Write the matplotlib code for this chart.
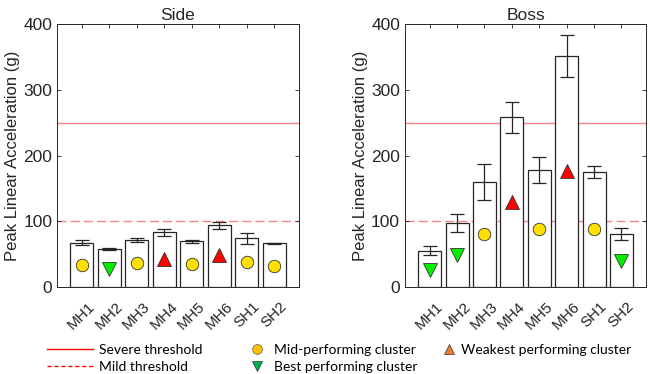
import numpy as np
import matplotlib
matplotlib.use("Agg")
import matplotlib.pyplot as plt
from matplotlib.lines import Line2D

plt.rcParams['font.family'] = ['Liberation Sans', 'DejaVu Sans']

helmets = ['MH1', 'MH2', 'MH3', 'MH4', 'MH5', 'MH6', 'SH1', 'SH2']

# Side impacts
side_mean = [67.5, 58, 72, 83, 69.5, 94, 74, 66.5]
side_err = [4, 1, 3, 6, 2, 5.5, 8.5, 0.5]
side_marker = [33, 28, 36.5, 43, 34.5, 48, 38, 32.5]
side_cluster = ['mid', 'best', 'mid', 'weak', 'mid', 'weak', 'mid', 'mid']

# Boss impacts
boss_mean = [55, 97, 160, 258, 178, 352, 175, 81]
boss_err = [7, 14, 27, 23, 20, 32, 9, 9]
boss_marker = [26, 48, 80, 130, 89, 177, 88, 39]
boss_cluster = ['best', 'best', 'mid', 'weak', 'mid', 'weak', 'mid', 'best']

severe = 250
mild = 100

styles = {
    'mid': dict(marker='o', color='#FFE000', ms=9),
    'best': dict(marker='v', color='#00F000', ms=10),
    'weak': dict(marker='^', color='#FF0000', ms=10),
}

fig = plt.figure(figsize=(6.5, 3.74), dpi=100)
ax1 = fig.add_axes([0.0877, 0.2326, 0.372, 0.703])
ax2 = fig.add_axes([0.623, 0.2326, 0.371, 0.703])

dark = '#262626'
x = np.arange(1, len(helmets) + 1)

for ax, mean, err, mk, cl, title in [
        (ax1, side_mean, side_err, side_marker, side_cluster, 'Side'),
        (ax2, boss_mean, boss_err, boss_marker, boss_cluster, 'Boss')]:
    ax.bar(x, mean, width=0.84, color='white', edgecolor=dark, linewidth=0.9, zorder=2)
    ax.errorbar(x, mean, yerr=err, fmt='none', ecolor=dark, elinewidth=0.9,
                capsize=5, capthick=0.9, zorder=3)
    ax.axhline(severe, color='#FF8080', lw=1, zorder=1)
    ax.axhline(mild, color='#FF8080', lw=1, ls=(0, (6.5, 3)), zorder=1)
    for xi, yi, c in zip(x, mk, cl):
        s = styles[c]
        ax.plot(xi, yi, marker=s['marker'], ms=s['ms'], mfc=s['color'],
                mec='#333333', mew=0.6, ls='none', zorder=4)
    ax.set_xlim(0.1, 8.9)
    ax.set_ylim(0, 400)
    ax.set_yticks([0, 100, 200, 300, 400])
    ax.set_xticks(x)
    ax.set_xticklabels(helmets, rotation=45, ha='center', va='top',
                       fontsize=11, color=dark)
    ax.tick_params(axis='x', pad=9)
    ax.tick_params(axis='y', labelsize=12.5, colors=dark)
    ax.tick_params(direction='in', top=True, right=True, length=3, width=0.6,
                   color=dark)
    ax.set_ylabel('Peak Linear Acceleration (g)', fontsize=12, color=dark, labelpad=2)
    ax.set_title(title, fontsize=12.5, color=dark, pad=3)
    for sp in ax.spines.values():
        sp.set_color(dark)
        sp.set_linewidth(0.7)

# legend (drawn as three blocks like the reference)
lfont = dict(family='Lato', size=10)
h_lines = [Line2D([], [], color='#FF0000', lw=1),
           Line2D([], [], color='#FF0000', lw=1, ls=(0, (3, 2)))]
fig.legend(h_lines, ['Severe threshold', 'Mild threshold'], loc='upper left',
           bbox_to_anchor=(0.0723, 0.08), frameon=False, prop=lfont,
           handlelength=3.3, handletextpad=0.43, labelspacing=0.35,
           borderaxespad=0, borderpad=0)
h_mk = [Line2D([], [], marker='o', ms=7, mfc='#FFC000', mec='#555555', mew=0.5, ls='none'),
        Line2D([], [], marker='v', ms=7, mfc='#00B050', mec='#333333', mew=0.5, ls='none')]
fig.legend(h_mk, ['Mid-performing cluster', 'Best performing cluster'], loc='upper left',
           bbox_to_anchor=(0.3846, 0.08), frameon=False, prop=lfont,
           handlelength=1, handletextpad=0.72, labelspacing=0.35,
           borderaxespad=0, borderpad=0)
h_wk = [Line2D([], [], marker='^', ms=7, mfc='#ED7D31', mec='#333333', mew=0.5, ls='none')]
fig.legend(h_wk, ['Weakest performing cluster'], loc='upper left',
           bbox_to_anchor=(0.680, 0.08), frameon=False, prop=lfont,
           handlelength=1, handletextpad=0.36, labelspacing=0.35,
           borderaxespad=0, borderpad=0)

fig.savefig('out.png', dpi=100)
